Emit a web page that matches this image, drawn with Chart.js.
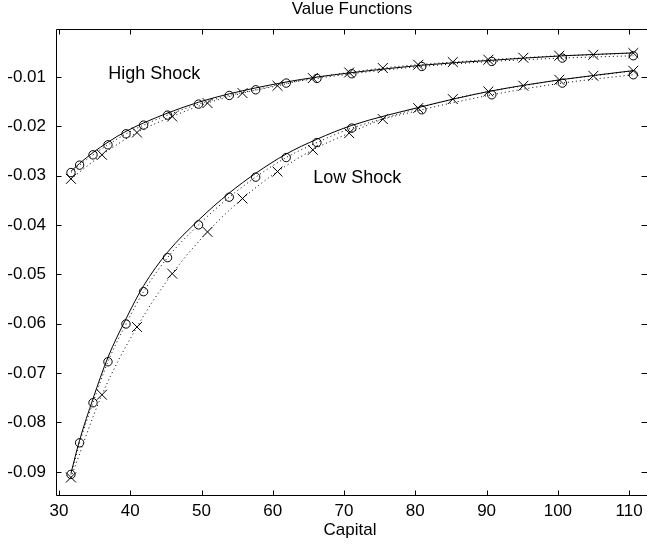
<!DOCTYPE html>
<html>
<head>
<meta charset="utf-8">
<script src="https://cdn.jsdelivr.net/npm/chart.js@4/dist/chart.umd.min.js"></script>
<style>
html,body{margin:0;padding:0;background:#fff;overflow:hidden;width:647px;height:544px;}
canvas{display:block;}
</style>
</head>
<body>
<canvas id="c" width="670" height="544"></canvas>
<script>
// ---- data ----
const capitalCircle = [31.68, 32.89, 34.77, 36.87, 39.40, 41.87, 45.23, 49.58, 53.89, 57.60, 61.88, 66.19, 71.09, 80.91, 90.73, 100.63, 110.59];
const capitalCross  = [31.68, 36.03, 40.94, 45.89, 50.84, 55.75, 60.66, 65.62, 70.72, 75.44, 80.40, 85.26, 90.25, 95.16, 100.20, 104.98, 110.59];

const highTrue   = [-0.0291, -0.0275, -0.0253, -0.0232, -0.0210, -0.0193, -0.0173, -0.0151, -0.0134, -0.0122, -0.0110, -0.0100, -0.0091, -0.0076, -0.0066, -0.0057, -0.0051];
const highCircle = [-0.02935, -0.02785, -0.02576, -0.02373, -0.0215, -0.01974, -0.01771, -0.01548, -0.01373, -0.01258, -0.01122, -0.01028, -0.00933, -0.00785, -0.00684, -0.00615, -0.00568];
const highCross  = [-0.03063, -0.02576, -0.02124, -0.01799, -0.01527, -0.01325, -0.01176, -0.0102, -0.00907, -0.00817, -0.0075, -0.00696, -0.00649, -0.00609, -0.00568, -0.00548, -0.00513];

const lowTrue   = [-0.0903, -0.0836, -0.0752, -0.0668, -0.0590, -0.0523, -0.0455, -0.0390, -0.0335, -0.0295, -0.0256, -0.0226, -0.0198, -0.0160, -0.0128, -0.0105, -0.0087];
const lowCircle = [-0.09053, -0.08412, -0.076, -0.06769, -0.06004, -0.05349, -0.04659, -0.03996, -0.03434, -0.03028, -0.02631, -0.02327, -0.02034, -0.01663, -0.01359, -0.01122, -0.00953];
const lowCross  = [-0.09114, -0.07438, -0.06065, -0.04984, -0.04138, -0.03462, -0.02915, -0.02475, -0.02136, -0.01852, -0.01629, -0.01446, -0.01292, -0.01176, -0.01055, -0.00974, -0.00872];

const xTicks = [30, 40, 50, 60, 70, 80, 90, 100, 110];
const yTicks = [-0.09, -0.08, -0.07, -0.06, -0.05, -0.04, -0.03, -0.02, -0.01];

const titleText = 'Value Functions';
const xLabelText = 'Capital';
const notes = [
  {text: 'High Shock', x: 36.9, y: -0.00943},
  {text: 'Low Shock', x: 65.67, y: -0.03053}
];

// ---- build ----
const pts = (xs, ys) => xs.map((x, i) => ({x, y: ys[i]}));
const FONT = '"Liberation Sans", Arial, Helvetica, sans-serif';

function solid(data){
  return {data, borderColor:'#000', borderWidth:1, pointRadius:0, showLine:true, fill:false, cubicInterpolationMode:'monotone'};
}
function dotted(data, style, r){
  return {data, borderColor:'#000', borderWidth:1, borderDash:[1,3], showLine:true, fill:false,
    cubicInterpolationMode:'monotone', pointStyle:style, pointRadius:r, pointBorderColor:'#000',
    pointBackgroundColor:'rgba(0,0,0,0)', pointBorderWidth:1, pointHoverRadius:r};
}

const framePlugin = {
  id:'frame',
  beforeDraw(chart){
    const c = chart.ctx;
    c.save(); c.fillStyle='#fff'; c.fillRect(0,0,chart.width,chart.height); c.restore();
  },
  afterDraw(chart){
    const c = chart.ctx, a = chart.chartArea, xs = chart.scales.x, ys = chart.scales.y;
    const L = Math.round(a.left)-0.5, R = Math.round(a.right)-0.5, T = Math.round(a.top)+0.5, B = Math.round(a.bottom)-0.5;
    c.save();
    c.strokeStyle='#000'; c.lineWidth=1;
    c.beginPath();
    c.moveTo(L,T); c.lineTo(R,T); c.lineTo(R,B); c.lineTo(L,B); c.closePath();
    const tl = 5;
    xTicks.forEach(v=>{
      const p = Math.round(xs.getPixelForValue(v))+0.5;
      c.moveTo(p,B); c.lineTo(p,B-tl);
      c.moveTo(p,T); c.lineTo(p,T+tl);
    });
    yTicks.forEach(v=>{
      const p = Math.round(ys.getPixelForValue(v))+0.5;
      c.moveTo(L,p); c.lineTo(L+tl,p);
      c.moveTo(R,p); c.lineTo(R-8,p);
    });
    c.stroke();
    c.fillStyle='#000';
    c.font = '17px ' + FONT;
    c.textAlign='center'; c.textBaseline='middle';
    c.fillText(titleText, 352, 9);
    c.fillText(xLabelText, 350, 530);
    c.font = '18px ' + FONT;
    c.textAlign='left';
    notes.forEach(n=>{
      c.fillText(n.text, xs.getPixelForValue(n.x), ys.getPixelForValue(n.y));
    });
    c.restore();
  }
};

new Chart(document.getElementById('c'), {
  type:'scatter',
  data:{datasets:[
    dotted(pts(capitalCircle, highCircle), 'circle', 4.2),
    dotted(pts(capitalCross, highCross), 'crossRot', 7),
    solid(pts(capitalCircle, highTrue)),
    dotted(pts(capitalCircle, lowCircle), 'circle', 4.2),
    dotted(pts(capitalCross, lowCross), 'crossRot', 7),
    solid(pts(capitalCircle, lowTrue))
  ]},
  options:{
    responsive:false, animation:false, devicePixelRatio:1,
    layout:{padding:{top:29, right:20, left:0, bottom:0}},
    plugins:{legend:{display:false}, title:{display:false}, tooltip:{enabled:false}},
    scales:{
      x:{type:'linear', min:29.72, max:112.93,
        grid:{display:false, drawTicks:false}, border:{display:false},
        afterBuildTicks:s=>{ s.ticks = xTicks.map(v=>({value:v})); },
        afterFit:s=>{ s.height = 48; },
        ticks:{color:'#000', font:{family:FONT, size:17}, padding:5, maxRotation:0, autoSkip:false,
          callback:v=>String(v)}
      },
      y:{type:'linear', min:-0.0949, max:-0.00026,
        grid:{display:false, drawTicks:false}, border:{display:false},
        afterBuildTicks:s=>{ s.ticks = yTicks.map(v=>({value:v})); },
        afterFit:s=>{ s.width = 57; },
        ticks:{color:'#000', font:{family:FONT, size:17}, padding:11, autoSkip:false,
          callback:v=>Number(v).toFixed(2)}
      }
    }
  },
  plugins:[framePlugin]
});
</script>
</body>
</html>
